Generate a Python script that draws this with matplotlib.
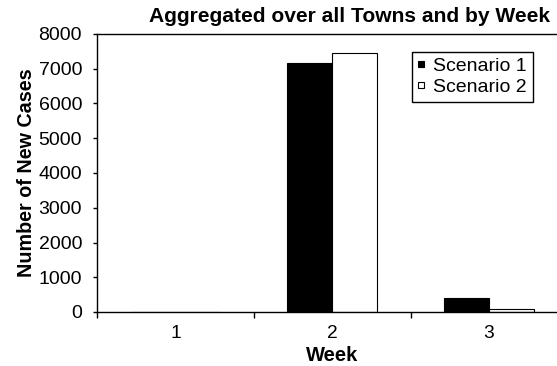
import matplotlib.pyplot as plt
import numpy as np
from matplotlib.lines import Line2D

plt.rcParams['font.family'] = ['Liberation Sans', 'DejaVu Sans']

weeks = ['1', '2', '3']
scenario_1 = [0, 7160, 400]
scenario_2 = [0, 7440, 80]
series_names = ['Scenario 1', 'Scenario 2']

W, H = 557, 366
fig = plt.figure(figsize=(W / 100, H / 100), dpi=100)
# plot area: left 97, top 34, bottom 312 (px); right edge runs off the figure
ax = fig.add_axes([97.3 / W, 1 - 312 / H, 470 / W, 278 / H])

x = np.arange(1, len(weeks) + 1)
bw = 0.287
ax.bar(x - bw / 2, scenario_1, bw, color='black', edgecolor='black', linewidth=0.8)
ax.bar(x + bw / 2, scenario_2, bw, color='white', edgecolor='black', linewidth=0.8)

ax.set_xlim(0.5, 3.5)
ax.set_ylim(0, 8000)
ax.set_yticks(range(0, 8001, 1000))
ax.set_xticks([0.5, 1.5, 2.5, 3.5])
ax.set_xticklabels([])
ax.set_xticks(x, minor=True)
ax.set_xticklabels(weeks, minor=True)
ax.tick_params(axis='x', which='minor', length=0, pad=9, labelsize=13.8)
ax.tick_params(axis='x', which='major', direction='out', length=4, width=1)
ax.tick_params(axis='y', direction='out', length=3, width=1, labelsize=14, pad=8)

for s in ['left', 'bottom', 'top']:
    ax.spines[s].set_linewidth(1)
ax.spines['right'].set_visible(False)

ax.set_xlabel('Week', fontsize=14.5, fontweight='bold', labelpad=3)
ax.set_ylabel('Number of New Cases', fontsize=14.2, fontweight='bold', labelpad=2)
fig.text(350 / W, 1 - 16 / H, 'Aggregated over all Towns and by Week',
         ha='center', va='center', fontsize=15.1, fontweight='bold')

# small square swatches, like the spreadsheet legend
handles = [Line2D([], [], linestyle='none', marker='s', markersize=4,
                  markerfacecolor=c, markeredgecolor='black', markeredgewidth=0.8)
           for c in ['black', 'white']]
leg = ax.legend(handles, series_names, loc='upper left',
                bbox_to_anchor=(412.3 / W, 1 - 51.7 / H), bbox_transform=fig.transFigure,
                fontsize=14, frameon=True, fancybox=False, framealpha=1,
                handlelength=0.27, handletextpad=0.5, numpoints=1,
                borderpad=0.3, labelspacing=0.15, borderaxespad=0)
leg.get_frame().set_edgecolor('black')
leg.get_frame().set_linewidth(1)

fig.savefig('out.png', dpi=100)
